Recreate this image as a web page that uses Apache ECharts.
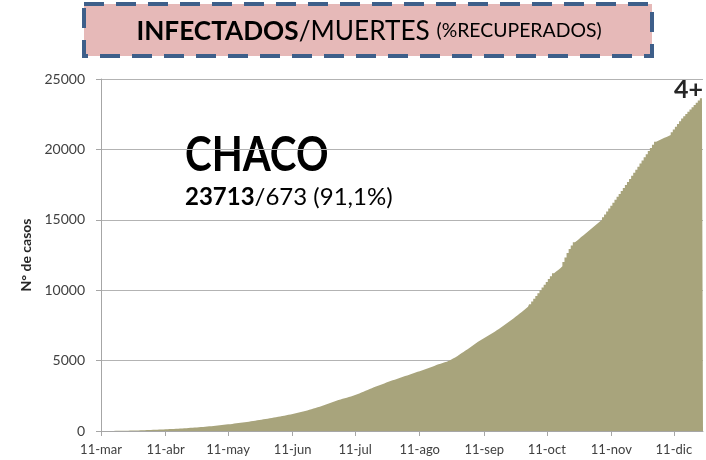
<!DOCTYPE html>
<html>
<head>
<meta charset="utf-8">
<script src="https://cdn.jsdelivr.net/npm/echarts@6/dist/echarts.min.js"></script>
<style>
  html, body { margin: 0; padding: 0; background: #fff; }
  #chart { width: 706px; height: 460px; }
</style>
</head>
<body>
<div id="chart"></div>
<script>
// dias desde 11-mar hasta 25-dic
var startDate = Date.UTC(2020, 2, 11)
var monthNames = ['ene', 'feb', 'mar', 'abr', 'may', 'jun', 'jul', 'ago', 'sep', 'oct', 'nov', 'dic']
var tickLabels = ['11-mar', '11-abr', '11-may', '11-jun', '11-jul', '11-ago', '11-sep', '11-oct', '11-nov', '11-dic']
var yTicks = [0, 5000, 10000, 15000, 20000, 25000]

// casos acumulados
var casos = [
  2, 2, 3, 3, 4, 6, 7, 9, 11, 13, 15, 18, 21, 24, 27, 31, 35, 38, 43, 48, 52, 58, 63, 68, 74, 80, 86, 92, 98, 104, 112,
  120, 127, 134, 141, 149, 157, 165, 174, 183, 192, 202, 212, 222, 233, 244, 255, 267, 279, 292, 305, 318, 332, 346, 360, 375, 390, 405, 421, 437, 454, 471,
  488, 506, 524, 543, 562, 582, 602, 623, 644, 665, 687, 709, 732, 755, 778, 802, 826, 851, 876, 901, 927, 953, 980, 1007, 1034, 1062, 1090, 1119, 1148, 1178, 1208,
  1240, 1274, 1308, 1343, 1380, 1420,
  1462, 1505, 1548, 1592, 1636, 1681, 1728, 1775,
  1826, 1878, 1931, 1984, 2038, 2091, 2145, 2200,
  2240, 2282, 2325, 2368, 2412, 2457, 2503, 2550,
  2608, 2670, 2731, 2792, 2854, 2916, 2978, 3040, 3100,
  3155, 3212, 3268, 3325, 3381, 3437, 3494, 3550,
  3598, 3647, 3699, 3748, 3796, 3851, 3903, 3949, 4001, 4052, 4098, 4151, 4203, 4250,
  4302, 4355, 4409, 4462, 4516, 4570, 4625, 4680, 4735,
  4780, 4828, 4875, 4922,
  4990, 5065, 5145, 5228, 5315, 5412, 5517,
  5612, 5710, 5812, 5915, 6018, 6124, 6232, 6343,
  6430, 6518, 6606, 6695, 6784, 6873, 6962, 7053,
  7150, 7252, 7355, 7458, 7565, 7670, 7777, 7883,
  7995, 8108, 8222, 8340, 8458, 8578, 8700, 8830,
  9010, 9195, 9385, 9580, 9785, 10000,
  10195, 10392, 10590, 10790, 10995, 11200,
  11320, 11440, 11565, 11700,
  12010, 12330, 12650,
  12920, 13180, 13400,
  13520, 13645, 13770, 13890, 14010, 14135, 14260, 14385,
  14510, 14630, 14750, 14875, 15000,
  15180, 15380, 15590, 15800, 16000,
  16215, 16425, 16630, 16840, 17050, 17260, 17470,
  17690, 17905, 18120, 18335, 18550, 18770,
  18990, 19215, 19440, 19660, 19885, 20105, 20325, 20545,
  20615, 20680, 20750, 20820, 20885, 20950, 21020,
  21210, 21405, 21600, 21800, 22000, 22200,
  22355, 22515, 22675, 22835, 22995, 23155, 23315, 23475, 23630, 23713
]

var fechas = casos.map(function (v, i) {
  var d = new Date(startDate + i * 86400000)
  return d.getUTCDate() + '-' + monthNames[d.getUTCMonth()]
})

var showTick = function (index, value) {
  return tickLabels.indexOf(value) >= 0
}

var font = 'Lato, "Open Sans", sans-serif'
var chart = echarts.init(document.getElementById('chart'))
chart.setOption({
  animation: false,
  textStyle: { fontFamily: font },
  grid: { left: 101, right: 3, top: 79, bottom: 29 },
  xAxis: {
    type: 'category',
    data: fechas,
    boundaryGap: false,
    axisLine: { lineStyle: { color: '#a6a6a6' } },
    axisTick: { interval: showTick, length: 5, lineStyle: { color: '#a6a6a6' } },
    axisLabel: { interval: showTick, color: '#404040', fontSize: 13, margin: 12, fontFamily: font }
  },
  yAxis: {
    type: 'value',
    min: yTicks[0],
    max: yTicks[yTicks.length - 1],
    interval: 5000,
    name: 'N° de casos',
    nameLocation: 'middle',
    nameGap: 56,
    nameTextStyle: { fontWeight: 'bold', fontSize: 14, color: '#262626', fontFamily: font },
    axisLine: { show: true, lineStyle: { color: '#a6a6a6' } },
    axisTick: { show: true, length: 5, lineStyle: { color: '#a6a6a6' } },
    axisLabel: {
      color: '#404040',
      fontSize: 14,
      margin: 16,
      fontFamily: font,
      formatter: function (v) { return String(v) }
    },
    splitLine: { lineStyle: { color: '#b3b3b3' } }
  },
  series: [
    {
      type: 'line',
      data: casos,
      step: 'middle',
      showSymbol: false,
      lineStyle: { width: 0 },
      areaStyle: { color: '#a8a47c', opacity: 1 }
    }
  ],
  graphic: [
    {
      type: 'rect',
      shape: { x: 84, y: 4, width: 568, height: 52 },
      style: { fill: '#e6b9b8', stroke: '#3e5f8a', lineWidth: 4, lineDash: [20, 12] }
    },
    {
      type: 'text',
      x: 369,
      y: 31,
      scaleX: 0.97,
      style: {
        text: '{b|INFECTADOS}{n|/MUERTES }{s|(%RECUPERADOS)}',
        align: 'center',
        verticalAlign: 'middle',
        rich: {
          b: { fontSize: 27, fontWeight: 'bold', fill: '#000', fontFamily: font },
          n: { fontSize: 27, fill: '#000', fontFamily: font },
          s: { fontSize: 20, fill: '#000', fontFamily: font }
        }
      }
    },
    {
      type: 'text',
      x: 185,
      y: 132,
      scaleX: 0.84,
      style: { text: 'CHACO', fontSize: 48, fontWeight: 'bold', fill: '#000', fontFamily: font }
    },
    {
      type: 'text',
      x: 185,
      y: 185,
      style: {
        text: '{b|23713}{n|/673 (91,1%)}',
        rich: {
          b: { fontSize: 24, fontWeight: 'bold', fill: '#000', fontFamily: font },
          n: { fontSize: 24, fill: '#000', fontFamily: font }
        }
      }
    },
    {
      type: 'text',
      x: 703,
      y: 77,
      style: { text: '4+', align: 'right', fontSize: 25, fontWeight: 'bold', fill: '#262626', fontFamily: font }
    }
  ]
})
</script>
</body>
</html>
